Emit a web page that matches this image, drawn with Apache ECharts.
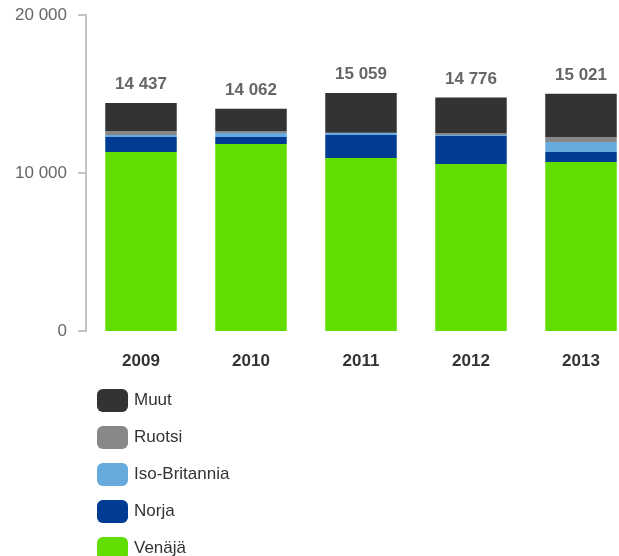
<!DOCTYPE html>
<html><head><meta charset="utf-8">
<script src="https://cdn.jsdelivr.net/npm/echarts@6/dist/echarts.min.js"></script>
<style>html,body{margin:0;padding:0;background:#fff}#c{width:619px;height:556px}</style>
</head><body><div id="c"></div>
<script>
const categories = ['2009', '2010', '2011', '2012', '2013'];
const venaja = [11330, 11837, 10950, 10570, 10700];
const norja = [950, 443, 1456, 1772, 633];
const isoBritannia = [127, 253, 127, 60, 633];
const ruotsi = [253, 127, 20, 127, 316];
const muut = [1777, 1402, 2506, 2247, 2739];
const yTicks = [0, 10000, 20000];

const totals = categories.map((_, i) => venaja[i] + norja[i] + isoBritannia[i] + ruotsi[i] + muut[i]);
const fmt = v => String(v).replace(/\B(?=(\d{3})+(?!\d))/g, ' ');
const font = 'Liberation Sans, Arial, sans-serif';

function s(name, data, color, extra) {
  return Object.assign({
    name, type: 'bar', stack: 'total', data, barWidth: '65%',
    itemStyle: { color }, emphasis: { disabled: true }
  }, extra || {});
}

const chart = echarts.init(document.getElementById('c'));
chart.setOption({
  animation: false,
  textStyle: { fontFamily: font },
  grid: { left: 86, top: 15, bottom: 225, right: -17, containLabel: false, outerBoundsMode: 'none' },
  legend: {
    orient: 'vertical', left: 92, top: 384, height: 200,
    itemWidth: 31, itemHeight: 23, itemGap: 14, icon: 'roundRect',
    textStyle: { fontSize: 17, color: '#333', fontFamily: font, padding: [0, 0, 0, 1] },
    data: ['Muut', 'Ruotsi', 'Iso-Britannia', 'Norja', 'Venäjä']
  },
  xAxis: {
    type: 'category', data: categories,
    axisLine: { show: false }, axisTick: { show: false },
    axisLabel: { fontSize: 17, fontWeight: 'bold', color: '#333', margin: 22, fontFamily: font }
  },
  yAxis: {
    type: 'value', min: yTicks[0], max: yTicks[yTicks.length - 1], interval: yTicks[1] - yTicks[0],
    splitLine: { show: false },
    axisLine: { show: true, lineStyle: { color: '#c4c4c4', width: 2 } },
    axisTick: { show: true, length: 8, lineStyle: { color: '#c4c4c4', width: 2 } },
    axisLabel: { fontSize: 17, color: '#666', margin: 19, formatter: fmt, fontFamily: font }
  },
  series: [
    s('Venäjä', venaja, '#62dd00'),
    s('Norja', norja, '#003c94'),
    s('Iso-Britannia', isoBritannia, '#66aade'),
    s('Ruotsi', ruotsi, '#888888'),
    s('Muut', muut, '#333333', {
      label: {
        show: true, position: 'top', distance: 10,
        fontSize: 17, fontWeight: 'bold', color: '#666', fontFamily: font,
        formatter: p => fmt(totals[p.dataIndex])
      }
    })
  ]
});
</script></body></html>
